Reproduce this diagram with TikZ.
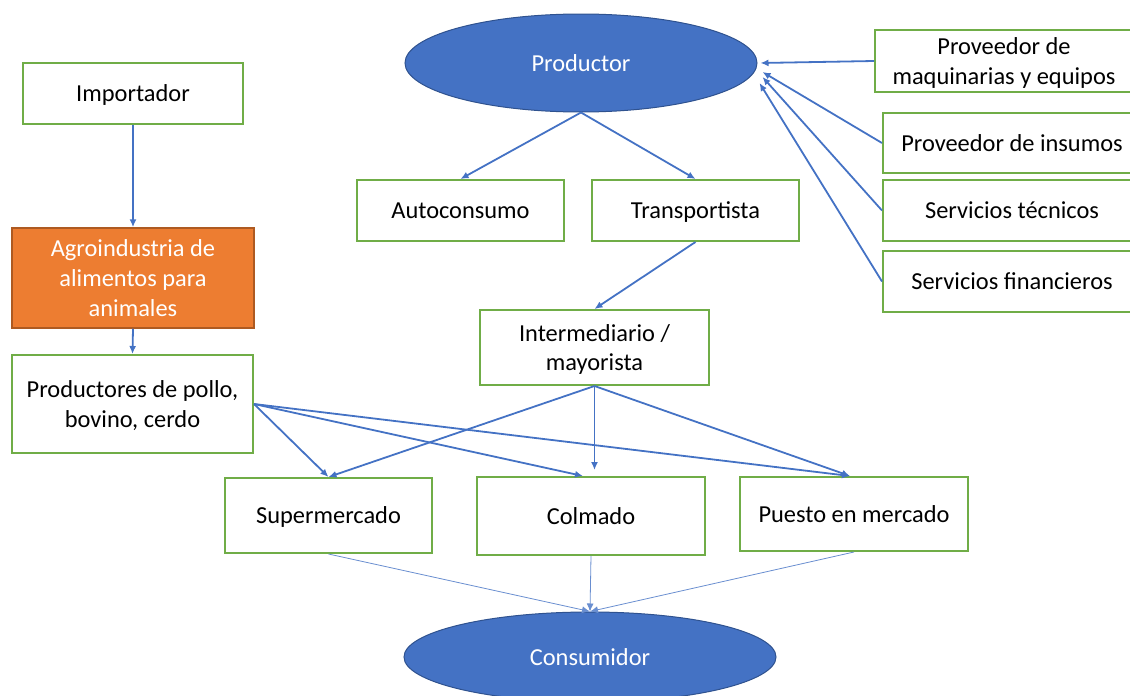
\documentclass[tikz,border=0pt]{standalone}
\usepackage{fontspec}
\setmainfont{Carlito}
\usetikzlibrary{shapes.geometric,arrows.meta}
\definecolor{accblue}{HTML}{4472C4}
\definecolor{darkblue}{HTML}{2F528F}
\definecolor{accgreen}{HTML}{70AD47}
\definecolor{accorange}{HTML}{ED7D31}
\definecolor{darkorange}{HTML}{AE5A21}
\tikzset{
  every node/.style={font=\fontsize{24.4}{29.8}\selectfont, align=center, inner sep=0pt, text depth=0pt},
  box/.style={draw=accgreen, line width=2pt, fill=white, text=black},
  oval/.style={ellipse, draw=darkblue, line width=1pt, fill=accblue, text=white},
  hot/.style={draw=darkorange, line width=1.5pt, fill=accorange, text=white},
  arr/.style={draw=accblue, line width=1.8pt, -{Latex[length=8pt,width=7pt]}},
  thin arr/.style={draw=accblue!80, line width=0.8pt, -{Latex[length=8pt,width=7pt]}}
}
\begin{document}
\begin{tikzpicture}[x=1pt,y=-1pt]
\useasboundingbox (0,0) rectangle (1130,696);
\clip (0,0) rectangle (1130,696);

% left chain: feed industry
\node[box, minimum width=220, minimum height=61] (imp) at (133,93.5) {Importador};
\node[hot, minimum width=242, minimum height=100] (agro) at (133,278) {Agroindustria de\\alimentos para\\animales};
\node[box, minimum width=241, minimum height=98] (pp) at (132.5,404) {Productores de pollo,\\bovino, cerdo};

% producer and its suppliers
\node[oval, minimum width=352, minimum height=98] (prod) at (581,63) {Productor};
\node[box, minimum width=258, minimum height=62] (maq) at (1004,61) {Proveedor de\\maquinarias y equipos};
\node[box, minimum width=258, minimum height=60] (ins) at (1012,143) {Proveedor de insumos};
\node[box, minimum width=258, minimum height=61] (tec) at (1012,210.5) {Servicios técnicos};
\node[box, minimum width=258, minimum height=61] (fin) at (1012,281.5) {Servicios financieros};

% distribution
\node[box, minimum width=207, minimum height=61] (auto) at (460.5,210.5) {Autoconsumo};
\node[box, minimum width=207, minimum height=61] (trans) at (695.5,210.5) {Transportista};
\node[box, minimum width=229, minimum height=75] (inter) at (594.5,347.5) {Intermediario /\\mayorista};

% retail
\node[box, minimum width=207, minimum height=75] (sup) at (328.5,515.5) {Supermercado};
\node[box, minimum width=228, minimum height=78] (colm) at (591,516) {Colmado};
\node[box, minimum width=228, minimum height=74] (pue) at (854,514) {Puesto en mercado};

% consumer
\node[oval, minimum width=372, minimum height=90] (cons) at (590,657) {Consumidor};

% flows
\draw[arr] (imp.south) -- (agro.north);
\draw[arr] (agro.south) -- (pp.north);

\draw[arr] (maq.west) -- ([shift={(3,0)}]prod.east);
\draw[arr] (ins.west) -- ([shift={(5,9)}]prod.east);
\draw[arr] (tec.west) -- ([shift={(5,14)}]prod.east);
\draw[arr] (fin.west) -- ([shift={(2,20)}]prod.east);

\draw[arr] (prod.south) -- (auto.north);
\draw[arr] (prod.south) -- (trans.north);
\draw[arr] (trans.south) -- (inter.north);

\draw[arr] (inter.south) -- (sup.north);
\draw[arr, shorten >=6pt] (inter.south) -- (inter.south |- colm.north);
\draw[arr] (inter.south) -- ([xshift=-4]pue.north);

\draw[arr] (pp.east) -- (sup.north);
\draw[arr] (pp.east) -- ([xshift=-8]colm.north);
\draw[arr] (pp.east) -- ([xshift=-4]pue.north);

\draw[thin arr] (sup.south) -- (cons.north);
\draw[thin arr] (colm.south) -- (cons.north);
\draw[thin arr] (pue.south) -- (cons.north);
\end{tikzpicture}
\end{document}
